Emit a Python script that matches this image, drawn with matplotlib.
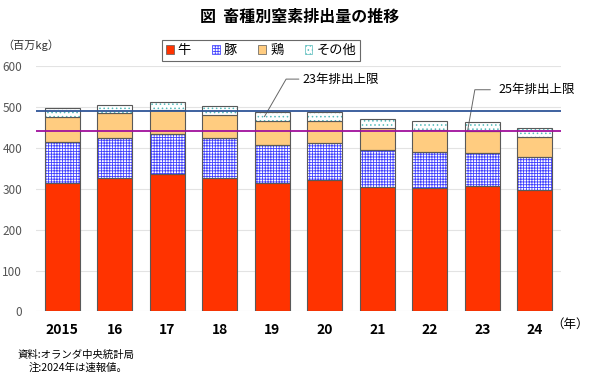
import matplotlib
matplotlib.use("Agg")
import matplotlib.pyplot as plt
from matplotlib.patches import Patch
import numpy as np

plt.rcParams['font.family'] = ['Noto Sans CJK JP', 'DejaVu Sans']
plt.rcParams['hatch.linewidth'] = 0.6

years = ["2015", "16", "17", "18", "19", "20", "21", "22", "23", "24"]
cattle = [315, 327, 336, 327, 315, 321, 304, 303, 306, 298]
pig = [100, 97, 99, 97, 93, 92, 90, 88, 81, 79]
chicken = [61, 62, 57, 57, 58, 53, 54, 53, 54, 50]
other = [21, 19, 21, 22, 21, 21, 22, 22, 22, 22]
limit_23 = 490
limit_25 = 441
series_names = ["牛", "豚", "鶏", "その他"]

fig = plt.figure(figsize=(6, 3.92), dpi=100)
ax = fig.add_axes([0.06, 0.2054, 0.875, 0.6262])

x = np.arange(len(years))
w = 0.667
edge = "#595959"

b0 = np.zeros(len(years))
ax.bar(x, cattle, w, bottom=b0, color="#FF3300", edgecolor=edge, linewidth=0.8, zorder=3)
b1 = b0 + np.array(cattle)
ax.bar(x, pig, w, bottom=b1, color="white", edgecolor="#4040FF", hatch="++++++", linewidth=0, zorder=3)
ax.bar(x, pig, w, bottom=b1, fill=False, edgecolor=edge, linewidth=0.8, zorder=4)
b2 = b1 + np.array(pig)
ax.bar(x, chicken, w, bottom=b2, color="#FFCC80", edgecolor=edge, linewidth=0.8, zorder=3)
b3 = b2 + np.array(chicken)
ax.bar(x, other, w, bottom=b3, color="white", edgecolor="#55BBBB", hatch="....", linewidth=0, zorder=3)
ax.bar(x, other, w, bottom=b3, fill=False, edgecolor=edge, linewidth=0.8, zorder=4)

ax.axhline(limit_23, color="#2F5597", linewidth=1.3, zorder=5)
ax.axhline(limit_25, color="#A0109C", linewidth=1.3, zorder=5)

ax.set_xlim(-0.5, len(years) - 0.5)
ax.set_ylim(0, 600)
ax.set_yticks(range(0, 601, 100))
ax.grid(axis="y", color="#E3E3E3", linewidth=0.8, zorder=0)
for s in ax.spines.values():
    s.set_visible(False)
ax.tick_params(axis="both", length=0)
ax.tick_params(axis="y", labelsize=8.5, labelcolor="#555555", pad=10)
ax.set_xticks(x)
ax.set_xticklabels(years, fontsize=10, fontweight="bold")
ax.tick_params(axis="x", pad=8)

# annotations
ax.annotate("23年排出上限", xy=(3.85, limit_23 - 14), xytext=(4.58, 568),
            fontsize=9, va="center", ha="left",
            arrowprops=dict(arrowstyle="-", color="#666666", linewidth=0.7,
                            connectionstyle="angle,angleA=0,angleB=60,rad=0",
                            shrinkA=0, shrinkB=0, relpos=(-0.05, 0.5)))
ax.annotate("25年排出上限", xy=(7.72, limit_25), xytext=(8.3, 542),
            fontsize=9, va="center", ha="left",
            arrowprops=dict(arrowstyle="-", color="#666666", linewidth=0.7,
                            connectionstyle="angle,angleA=0,angleB=80,rad=0",
                            shrinkA=0, shrinkB=0, relpos=(-0.1, 0.5)))

fig.text(0.5, 0.957, "図  畜種別窒素排出量の推移", ha="center", va="center",
         fontsize=11.5, fontweight="bold")
fig.text(0.004, 0.885, "（百万kg）", ha="left", va="center", fontsize=8, color="#333333")
fig.text(0.918, 0.172, "（年）", ha="left", va="center", fontsize=9)
fig.text(0.03, 0.094, "資料:オランダ中央統計局", ha="left", va="center", fontsize=7.5)
fig.text(0.047, 0.061, "注:2024年は速報値。", ha="left", va="center", fontsize=7.5)

handles = [
    Patch(facecolor="#FF3300", edgecolor=edge, linewidth=0.5),
    Patch(facecolor="white", edgecolor="#4040FF", hatch="++++++", linewidth=0.5),
    Patch(facecolor="#FFCC80", edgecolor=edge, linewidth=0.5),
    Patch(facecolor="white", edgecolor="#55BBBB", hatch="....", linewidth=0.5),
]
leg = fig.legend(handles, series_names, loc="center", bbox_to_anchor=(0.435, 0.871),
                 ncol=4, fontsize=9.5, frameon=True, fancybox=False,
                 edgecolor="#444444", handlelength=0.6, handleheight=0.6,
                 handletextpad=0.3, columnspacing=1.6, borderpad=0.3)
leg.get_frame().set_linewidth(0.8)

fig.savefig("out.png", dpi=100)
